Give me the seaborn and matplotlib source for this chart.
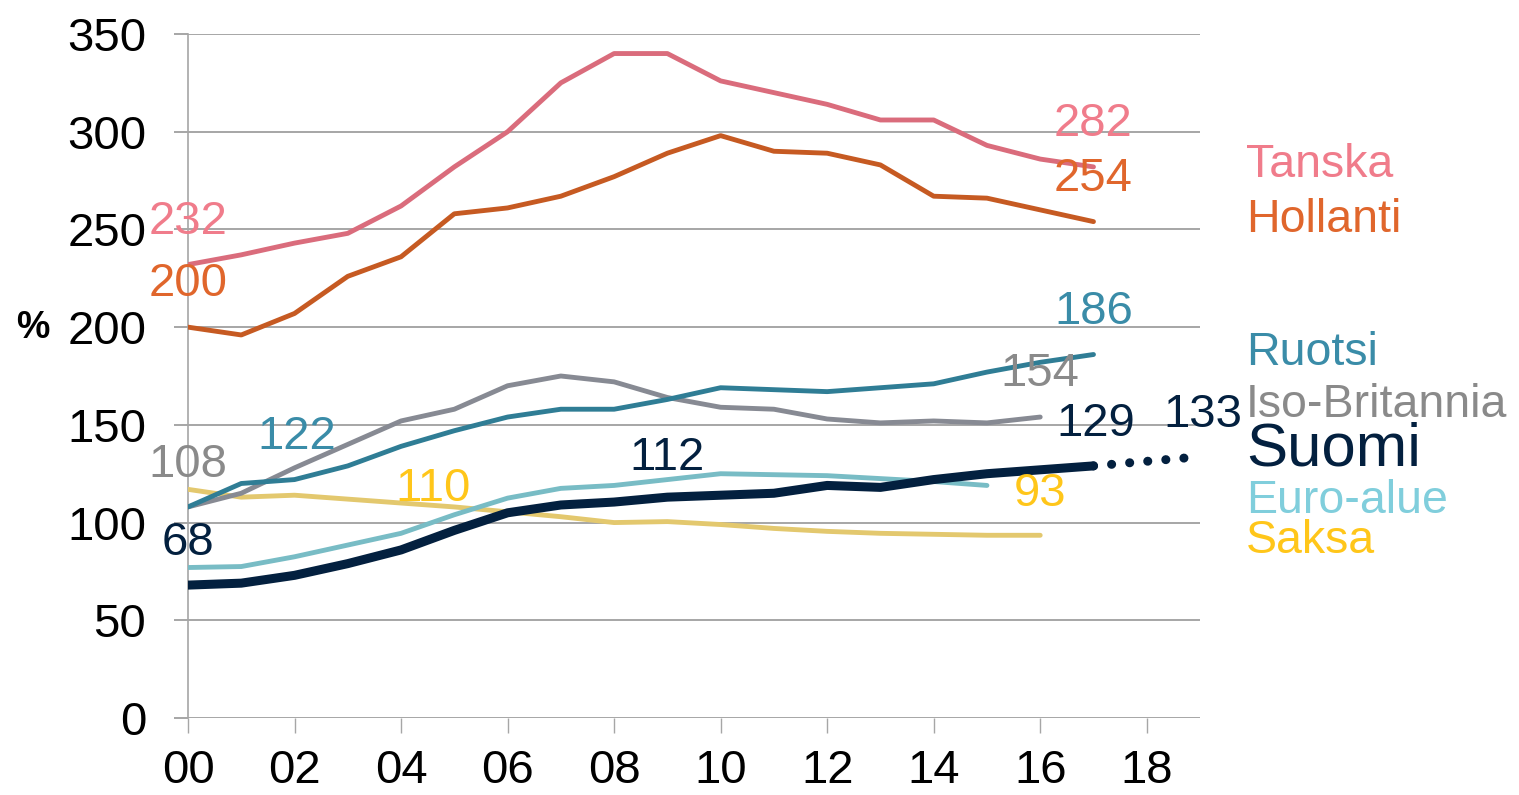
import matplotlib
matplotlib.use("Agg")
import matplotlib.pyplot as plt
import seaborn as sns
import pandas as pd

# ---- data ----
years = list(range(2000, 2018))
tanska = [232, 237, 243, 248, 262, 282, 300, 325, 340, 340, 326, 320, 314, 306, 306, 293, 286, 282]
hollanti = [200, 196, 207, 226, 236, 258, 261, 267, 277, 289, 298, 290, 289, 283, 267, 266, 260, 254]
ruotsi = [108, 120, 122, 129, 139, 147, 154, 158, 158, 163, 169, 168, 167, 169, 171, 177, 182, 186]
iso_britannia = [108, 115, 128, 140, 152, 158, 170, 175, 172, 164, 159, 158, 153, 151, 152, 151, 154]
suomi = [68, 69, 73, 79, 86, 96, 105, 109, 110.5, 113, 114, 115, 119, 118, 122, 125, 127, 129]
euro_alue = [77, 77.5, 82.5, 88.5, 94.5, 104, 112.5, 117.5, 119, 122, 125, 124.5, 124, 122.5, 121, 119]
saksa = [117, 113, 114, 112, 110, 108, 105.5, 103, 100, 100.5, 99, 97, 95.5, 94.5, 94, 93.5, 93.5]
suomi_forecast_years = [2017, 2018.7]
suomi_forecast = [129, 133]

series_names = ["Tanska", "Hollanti", "Ruotsi", "Iso-Britannia", "Suomi", "Euro-alue", "Saksa"]
series_values = [tanska, hollanti, ruotsi, iso_britannia, suomi, euro_alue, saksa]

line_colors = {"Tanska": "#DA6C7C", "Hollanti": "#C65A22", "Ruotsi": "#2F7D95",
               "Iso-Britannia": "#878A93", "Suomi": "#03203F", "Euro-alue": "#78BCC5",
               "Saksa": "#E3C86E"}
label_colors = {"Tanska": "#F07C8B", "Hollanti": "#E0662C", "Ruotsi": "#3A8CA8",
                "Iso-Britannia": "#8A8A8A", "Suomi": "#03203F", "Euro-alue": "#80CEDC",
                "Saksa": "#FFC61A"}

# value annotations: (text, series, x, y)
annotations = [
    ("232", "Tanska", 2000, 254), ("282", "Tanska", 2017, 304),
    ("200", "Hollanti", 2000, 222), ("254", "Hollanti", 2017, 276),
    ("122", "Ruotsi", 2002.05, 144), ("186", "Ruotsi", 2017, 208),
    ("108", "Iso-Britannia", 2000, 129.5), ("154", "Iso-Britannia", 2016, 176),
    ("68", "Suomi", 2000, 89.5), ("112", "Suomi", 2009, 133),
    ("129", "Suomi", 2017.05, 150.5), ("133", "Suomi", 2019.05, 155),
    ("110", "Saksa", 2004.6, 117), ("93", "Saksa", 2016, 114.5),
]
legend_pos = {"Tanska": 283, "Hollanti": 255, "Ruotsi": 187, "Iso-Britannia": 160,
              "Suomi": 137, "Euro-alue": 111, "Saksa": 90.5}

x_ticks = list(range(2000, 2019, 2))
y_ticks = list(range(0, 351, 50))

# ---- plot ----
sns.set_style("white")
plt.rcParams["font.family"] = ["Liberation Sans", "DejaVu Sans"]

fig = plt.figure(figsize=(15.19, 7.95), dpi=100)
ax = fig.add_axes([188 / 1519, 1 - 718 / 795, (1200 - 188) / 1519, (718 - 34) / 795])

draw_order = ["Saksa", "Euro-alue", "Iso-Britannia", "Ruotsi", "Hollanti", "Tanska", "Suomi"]
for name in draw_order:
    vals = series_values[series_names.index(name)]
    df = pd.DataFrame({"year": years[:len(vals)], "value": vals})
    lw = 6.5 if name == "Suomi" else 3.5
    sns.lineplot(data=df, x="year", y="value", ax=ax, color=line_colors[name],
                 linewidth=lw, solid_capstyle="round", solid_joinstyle="round", zorder=3)

fdf = pd.DataFrame({"year": suomi_forecast_years, "value": suomi_forecast})
sns.lineplot(data=fdf, x="year", y="value", ax=ax, color=line_colors["Suomi"], linewidth=6.5,
             linestyle=(0, (0.01, 2.0)), dash_capstyle="round", zorder=3)

ax.set_xlim(2000, 2019)
ax.set_ylim(0, 350)
ax.set_xticks(x_ticks)
ax.set_xticklabels([f"{y % 100:02d}" for y in x_ticks])
ax.set_yticks(y_ticks)
ax.set_yticklabels([str(v) for v in y_ticks])
ax.set_xlabel("")
ax.set_ylabel("")

ax.grid(axis="y", color="#A6A6A6", linewidth=1.4, zorder=0)
ax.grid(axis="x", visible=False)
for s in ["top", "right", "bottom"]:
    ax.spines[s].set_visible(False)
ax.spines["left"].set_color("#A6A6A6")
ax.spines["left"].set_linewidth(1.2)

ax.tick_params(axis="x", direction="out", length=11, width=1.0, color="#A6A6A6",
               labelsize=34, pad=11, labelcolor="black", bottom=True)
ax.tick_params(axis="y", direction="out", length=10, width=1.4, color="#A6A6A6",
               labelsize=34, pad=20, labelcolor="black", left=True)

for text, name, x, y in annotations:
    ax.text(x, y, text, color=label_colors[name], fontsize=34, ha="center", va="center",
            clip_on=False, zorder=5)

for name, y in legend_pos.items():
    fs = 44.5 if name == "Suomi" else 33.5
    ax.text(2019.86, y, name, color=label_colors[name], fontsize=fs, ha="left", va="center",
            clip_on=False, zorder=5)

fig.text(33 / 1519, 1 - 328 / 795, "%", fontsize=27, fontweight="bold", ha="center",
         va="center", color="black")

fig.savefig("out.png", dpi=100)
